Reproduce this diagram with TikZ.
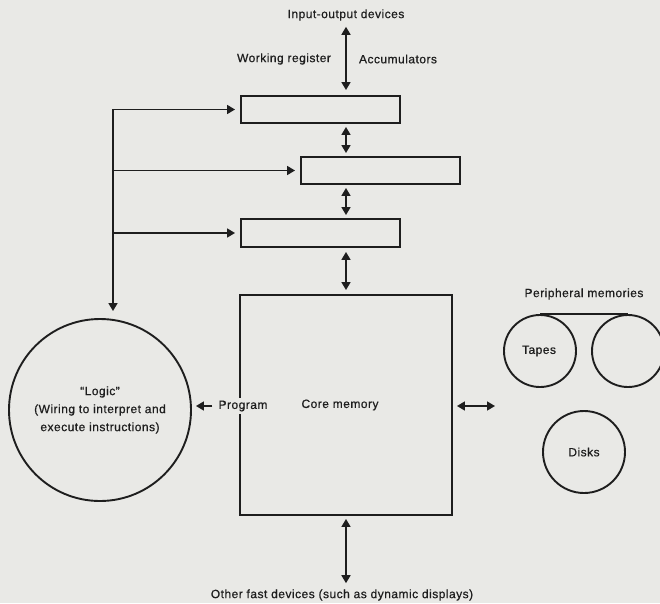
\documentclass[tikz,border=0pt]{standalone}
\usepackage{fontspec}
\setmainfont{Liberation Sans}[LetterSpace=4, FakeBold=0.6]
\usetikzlibrary{arrows.meta}
\definecolor{ink}{RGB}{30,30,30}
\definecolor{paper}{RGB}{233,233,230}
\begin{document}
\begin{tikzpicture}[x=1pt,y=-1pt,
  every node/.style={font=\fontsize{12}{18}\selectfont, text=ink, inner sep=0pt},
  reg/.style={draw=ink, line width=1.9pt, minimum width=159pt, minimum height=27pt},
  conn/.style={draw=ink, line width=1.6pt},
  tip/.style={-{Triangle[length=8pt,width=9pt]}},
  dtip/.style={{Triangle[length=8pt,width=9pt]}-{Triangle[length=8pt,width=9pt]}},
  ring/.style={draw=ink, line width=1.9pt, circle},
]
\fill[paper] (0,0) rectangle (660,603);
\useasboundingbox (0,0) rectangle (660,603);
\clip (0,0) rectangle (660,603);

% registers and core
\node[reg] (b1) at (320.5,109.5) {};
\node[reg] (b2) at (380.5,170.5) {};
\node[reg, minimum height=28pt] (b3) at (320.5,233) {};
\node[draw=ink, line width=1.9pt, minimum width=212pt, minimum height=220pt] (core) at (346,405) {};
\node (coret) at (340,405) {Core memory};

% labels
\node (io) at (346,15) {Input-output devices};
\node (wr) at (284,59) {Working register};
\node (acc) at (398,59) {Accumulators};
\node[fill=paper, inner ysep=2.5pt] (prog) at (243,406) {Program};
\node (other) at (342,595) {Other fast devices (such as dynamic displays)};

% logic
\node[ring, minimum size=182pt, align=center] (logic) at (100,410)
  {“Logic”\\(Wiring to interpret and\\execute instructions)};

% peripheral memories
\node (pm) at (584,294) {Peripheral memories};
\node[ring, minimum size=72pt] (t1) at (540,351) {};
\node (tapes) at (539,351) {Tapes};
\node[ring, minimum size=72pt] (t2) at (628,351) {};
\node[ring, minimum size=82pt] (disk) at (584,452) {};
\node (disks) at (584,452) {Disks};
\draw[ink, line width=1.9pt] (t1.north) -- (t2.north);

% vertical data path
\draw[conn, dtip, shorten <=6pt, shorten >=5pt] (io.south) -- (b1.north -| io.south);
\draw[conn, dtip, shorten <=3pt, shorten >=3pt] (b1.south -| io) -- (b2.north -| io);
\draw[conn, dtip, shorten <=3pt, shorten >=3pt] (b2.south -| io) -- (b3.north -| io);
\draw[conn, dtip, shorten <=4pt, shorten >=4pt] (b3.south -| io) -- (core.north -| io);
\draw[conn, dtip, shorten <=3pt, shorten >=6pt] (core.south -| io) -- (other.north -| io);

% control lines from logic
\coordinate (lc) at (113,111);
\draw[conn, dtip, shorten <=5pt, shorten >=7pt] (b1.west) -- (b1.west -| lc) -- (logic.north -| lc);
\draw[conn, tip, shorten >=5pt] (b2.west -| lc) -- (b2.west);
\draw[conn, tip, shorten >=5pt] (b3.west -| lc) -- (b3.west);

% program
\draw[conn, tip, shorten <=6pt, shorten >=4pt] (prog.west) -- (prog.west -| logic.east);

% to peripherals
\coordinate (pe) at (495,406);
\draw[conn, dtip, shorten <=4pt] (core.east |- pe) -- (pe);
\end{tikzpicture}
\end{document}
